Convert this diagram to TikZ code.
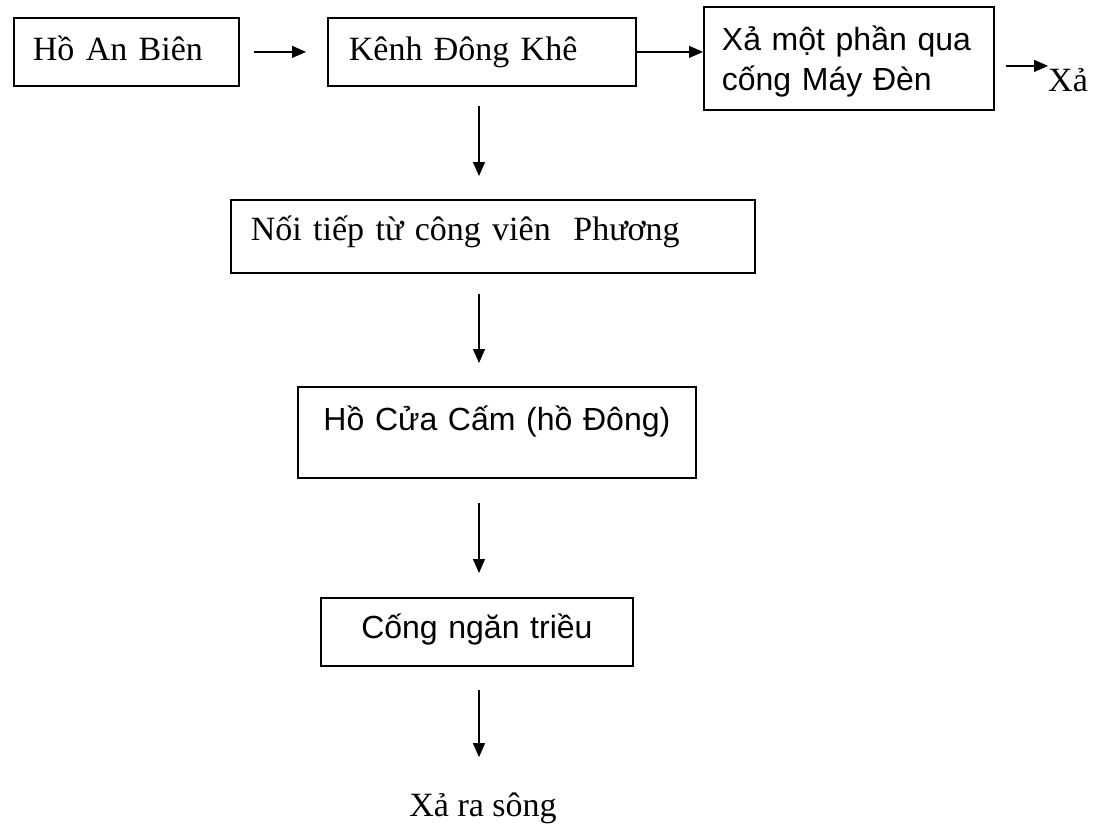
\documentclass[tikz,border=0pt]{standalone}
\usepackage{fontspec}
\setmainfont{Liberation Serif}
\setsansfont{Liberation Sans}
\usetikzlibrary{arrows.meta}

\begin{document}
\begin{tikzpicture}[x=1pt,y=-1pt]
  \tikzstyle{box}=[draw,line width=1.8pt,anchor=north west,inner ysep=0pt,align=left]
  \tikzstyle{serif}=[font=\fontsize{34}{40}\selectfont]
  \tikzstyle{sans}=[font=\sffamily\fontsize{32}{40}\selectfont]
  \tikzstyle{arr}=[line width=1.2pt,-{Triangle[length=14pt,width=12pt]}]
  \useasboundingbox (0,0) rectangle (1097,827);
  \node[box,serif,inner xsep=19pt,text width=187pt,text height=43pt,text depth=25pt] (hoAnBien) at (13,17) {Hồ An Biên};
  \node[box,serif,inner xsep=21pt,text width=266pt,text height=43pt,text depth=25pt] (kenhDongKhe) at (327,17) {Kênh Đông Khê};
  \node[box,sans,inner xsep=18pt,text width=254pt,text height=44pt,text depth=59pt] (xaMotPhan) at (703,6) {Xả một phần qua\\cống Máy Đèn};
  \node[box,serif,inner xsep=20pt,text width=484pt,text height=41pt,text depth=32pt] (noiTiep) at (230,199) {Nối tiếp từ công viên \ Phương};
  \node[box,sans,align=center,inner xsep=16pt,text width=366pt,text height=44pt,text depth=47pt] (hoCuaCam) at (297,386) {Hồ Cửa Cấm (hồ Đông)};
  \node[box,sans,align=center,inner xsep=16pt,text width=280pt,text height=41pt,text depth=27pt] (congNganTrieu) at (320,597) {Cống ngăn triều};
  \node[serif,anchor=base west,inner sep=0pt] (xaLabel) at (1048,91) {Xả};
  \node[serif,anchor=base,inner sep=0pt] (xaRaSong) at (483,816) {Xả ra sông};
  \coordinate (col) at (479,0);
  \draw[arr,shorten <=14pt,shorten >=21pt] (hoAnBien) -- (kenhDongKhe);
  \draw[arr] (kenhDongKhe.east) -- (kenhDongKhe.east -| xaMotPhan.west);
  \draw[arr] ([shift={(11,7.5)}]xaMotPhan.east) coordinate (xaStart) -- (xaStart -| xaLabel.west);
  \draw[arr,shorten <=19pt,shorten >=23pt] (col |- kenhDongKhe.south) -- (col |- noiTiep.north);
  \draw[arr,shorten <=20pt,shorten >=23pt] (col |- noiTiep.south) -- (col |- hoCuaCam.north);
  \draw[arr,shorten <=24pt,shorten >=24pt] (col |- hoCuaCam.south) -- (col |- congNganTrieu.north);
  \draw[arr,shorten <=23pt,shorten >=35pt] (col |- congNganTrieu.south) -- (col |- xaRaSong.north);
\end{tikzpicture}
\end{document}
